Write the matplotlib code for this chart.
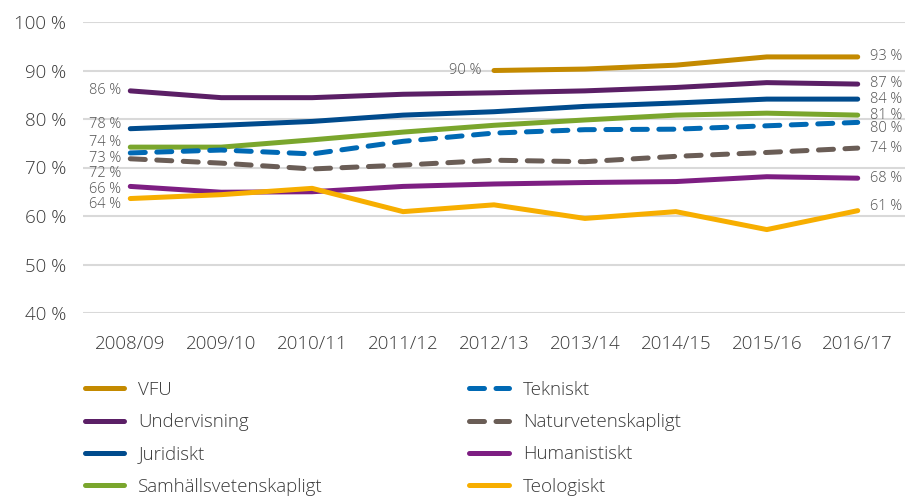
import numpy as np
import matplotlib
matplotlib.use("Agg")
import matplotlib.pyplot as plt

plt.rcParams['font.family'] = ['Open Sans', 'DejaVu Sans']
plt.rcParams['font.weight'] = 'light'

years = ['2008/09', '2009/10', '2010/11', '2011/12', '2012/13',
         '2013/14', '2014/15', '2015/16', '2016/17']

nan = np.nan
vfu = [nan, nan, nan, nan, 90.0, 90.3, 91.1, 92.8, 92.8]
undervisning = [85.8, 84.4, 84.4, 85.1, 85.4, 85.8, 86.5, 87.5, 87.2]
juridiskt = [78.0, 78.7, 79.5, 80.8, 81.5, 82.6, 83.3, 84.1, 84.1]
samhalls = [74.2, 74.2, 75.7, 77.3, 78.7, 79.8, 80.8, 81.2, 80.8]
tekniskt = [73.0, 73.6, 72.8, 75.4, 77.1, 77.8, 77.9, 78.6, 79.3]
naturvet = [71.8, 70.9, 69.7, 70.5, 71.5, 71.2, 72.3, 73.1, 74.0]
humanistiskt = [66.1, 64.9, 65.0, 66.1, 66.6, 66.9, 67.1, 68.1, 67.8]
teologiskt = [63.6, 64.4, 65.7, 60.9, 62.3, 59.5, 60.9, 57.2, 61.1]

# (label, values, color, dashed, first label text, last label text)
series = [
    ('VFU', vfu, '#C48A00', False, '90 %', '93 %'),
    ('Undervisning', undervisning, '#5B1F66', False, '86 %', '87 %'),
    ('Juridiskt', juridiskt, '#004B8D', False, '78 %', '84 %'),
    ('Samhällsvetenskapligt', samhalls, '#7AA62D', False, '74 %', '81 %'),
    ('Tekniskt', tekniskt, '#0069B4', True, '73 %', '80 %'),
    ('Naturvetenskapligt', naturvet, '#6A5D56', True, '72 %', '74 %'),
    ('Humanistiskt', humanistiskt, '#7D1E82', False, '66 %', '68 %'),
    ('Teologiskt', teologiskt, '#F7AE00', False, '64 %', '61 %'),
]

# label nudges in points (start, end) to keep them apart
start_dy = {'VFU': 0, 'Undervisning': 0, 'Juridiskt': 2.7, 'Samhällsvetenskapligt': 3,
            'Tekniskt': -4, 'Naturvetenskapligt': -10.8, 'Humanistiskt': -2.4,
            'Teologiskt': -4.5}
end_dy = {'VFU': 0.5, 'Undervisning': 0.7, 'Juridiskt': 0, 'Samhällsvetenskapligt': 0,
          'Tekniskt': -4.7, 'Naturvetenskapligt': 0, 'Humanistiskt': 0,
          'Teologiskt': 2.7}

text_color = '#3a3a3a'
lab_color = '#505050'

fig = plt.figure(figsize=(9.16, 4.96), dpi=100)
ax = fig.add_axes([83 / 916, 1 - 313 / 496, (905 - 83) / 916, (313 - 22) / 496])

x = np.arange(len(years))
for name, vals, color, dashed, first_lab, last_lab in series:
    vals = np.array(vals, dtype=float)
    if dashed:
        ax.plot(x, vals, color=color, lw=3.6, dashes=(3, 2.3),
                dash_capstyle='round', solid_capstyle='round', label=name, zorder=3)
    else:
        ax.plot(x, vals, color=color, lw=3.6, solid_capstyle='round',
                solid_joinstyle='round', label=name, zorder=3)
    valid = np.where(~np.isnan(vals))[0]
    i0, i1 = valid[0], valid[-1]
    dx0 = -9.4 if name == 'VFU' else -6.5
    ax.annotate(first_lab, (x[i0], vals[i0]), xytext=(dx0, start_dy[name]),
                textcoords='offset points', ha='right', va='center',
                fontsize=10.5, color=lab_color)
    ax.annotate(last_lab, (x[i1], vals[i1]), xytext=(8.6, end_dy[name]),
                textcoords='offset points', ha='left', va='center',
                fontsize=10.5, color=lab_color)

ax.set_xlim(-0.52, len(years) - 0.48)
ax.set_ylim(40, 100)
ax.set_yticks(np.arange(40, 101, 10))
ax.set_yticklabels([f'{v} %' for v in range(40, 101, 10)])
ax.set_xticks(x)
ax.set_xticklabels(years)
ax.tick_params(axis='both', length=0, labelsize=13.5, labelcolor=text_color)
ax.tick_params(axis='y', pad=12)
ax.tick_params(axis='x', pad=16)
ax.grid(axis='y', color='#d9d9d9', lw=1.5)
ax.set_axisbelow(True)
for s in ax.spines.values():
    s.set_visible(False)

handles, labels = ax.get_legend_handles_labels()
fig.legend(handles, labels, ncol=2, loc='upper left',
           bbox_to_anchor=(68 / 916, 1 - 364 / 496), frameon=False,
           fontsize=13.5, labelcolor=text_color, handlelength=2.1,
           handletextpad=0.75, labelspacing=0.76, columnspacing=7.8)

fig.savefig('out.png', dpi=100)
